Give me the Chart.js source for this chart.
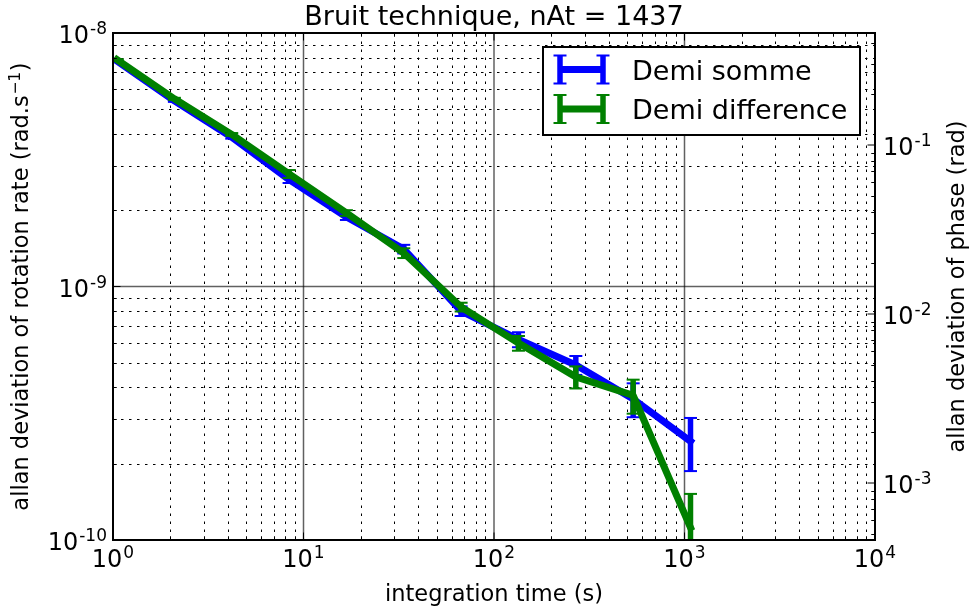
<!DOCTYPE html>
<html>
<head>
<meta charset="utf-8">
<title>Bruit technique</title>
<script src="https://cdn.jsdelivr.net/npm/chart.js@4.4.0/dist/chart.umd.min.js"></script>
<style>
  html, body { margin: 0; padding: 0; background: #fff; }
  #wrap { width: 971px; height: 612px; }
</style>
</head>
<body>
<div id="wrap"><canvas id="allanChart" width="971" height="612"></canvas></div>
<script>
// temps d'intégration (s)
const tau = [1.05, 2.1, 4.2, 8.4, 16.8, 33.6, 67.2, 134.4, 268.8, 537.6, 1075.2];

// écart-type d'Allan, demi somme
const sommeDev = [7.75e-9, 5.40e-9, 3.88e-9, 2.64e-9, 1.88e-9, 1.405e-9, 8.0e-10, 6.18e-10, 4.9e-10, 3.6e-10, 2.45e-10];
const sommeErr = [0.03e-9, 0.05e-9, 0.05e-9, 0.08e-9, 0.05e-9, 0.055e-9, 0.35e-10, 0.42e-10, 0.42e-10, 0.55e-10, 0.58e-10];

// écart-type d'Allan, demi différence
const diffDev = [7.85e-9, 5.50e-9, 3.98e-9, 2.78e-9, 1.95e-9, 1.355e-9, 8.3e-10, 5.98e-10, 4.4e-10, 3.72e-10, 1.12e-10];
const diffErr = [0.03e-9, 0.05e-9, 0.05e-9, 0.10e-9, 0.05e-9, 0.06e-9, 0.33e-10, 0.40e-10, 0.44e-10, 0.57e-10, 0.40e-10];

// graduations principales
const xDecades = [1, 10, 100, 1000, 10000];
const xDecadeExp = ['0', '1', '2', '3', '4'];
const rateDecades = [1e-8, 1e-9, 1e-10];
const rateDecadeExp = ['-8', '-9', '-10'];
const phaseDecades = [1e-1, 1e-2, 1e-3];
const phaseDecadeExp = ['-1', '-2', '-3'];

const titleText = 'Bruit technique, nAt = 1437';
const xLabel = 'integration time (s)';
const phaseLabel = 'allan deviation of phase (rad)';

const FONT = '"DejaVu Sans", sans-serif';
const LABEL = 22.5;   // titres des axes
const TICK = 24;      // "10" des graduations
const SUP = 17;       // exposants

function toPoints(xs, ys) {
  return xs.map((v, i) => ({ x: v, y: ys[i] }));
}

// graduations secondaires 2..9 de chaque décade
function minorValues(lo, hi) {
  const out = [];
  const e0 = Math.floor(Math.log10(lo)) - 1;
  const e1 = Math.ceil(Math.log10(hi));
  for (let e = e0; e <= e1; e++) {
    for (let m = 2; m <= 9; m++) {
      const v = m * Math.pow(10, e);
      if (v > lo * 1.0001 && v < hi * 0.9999) out.push(v);
    }
  }
  return out;
}

function seg(ctx, x1, y1, x2, y2) {
  ctx.beginPath();
  ctx.moveTo(x1, y1);
  ctx.lineTo(x2, y2);
  ctx.stroke();
}

// "10" avec exposant
function drawPower(ctx, exp, x, baseY, align) {
  ctx.font = TICK + 'px ' + FONT;
  const wBase = ctx.measureText('10').width;
  ctx.font = SUP + 'px ' + FONT;
  const wExp = ctx.measureText(exp).width;
  const total = wBase + 1 + wExp;
  let left = x;
  if (align === 'right') left = x - total;
  if (align === 'center') left = x - total / 2;
  ctx.textAlign = 'left';
  ctx.textBaseline = 'alphabetic';
  ctx.fillStyle = '#000';
  ctx.font = TICK + 'px ' + FONT;
  ctx.fillText('10', left, baseY);
  ctx.font = SUP + 'px ' + FONT;
  ctx.fillText(exp, left + wBase + 1, baseY - 9);
}

const background = {
  id: 'background',
  beforeDraw(chart) {
    const { ctx, width, height } = chart;
    ctx.save();
    ctx.fillStyle = '#fff';
    ctx.fillRect(0, 0, width, height);
    ctx.restore();
  }
};

// grille : pointillés pour les graduations secondaires, trait plein pour les décades
const gridLines = {
  id: 'gridLines',
  beforeDatasetsDraw(chart) {
    const { ctx, chartArea: a, scales } = chart;
    const x = scales.x, y = scales.y;
    ctx.save();
    ctx.beginPath();
    ctx.rect(a.left, a.top, a.right - a.left, a.bottom - a.top);
    ctx.clip();

    ctx.strokeStyle = '#000';
    ctx.lineWidth = 1;
    ctx.setLineDash([2.5, 5.5]);
    minorValues(x.min, x.max).forEach(v => {
      const px = Math.round(x.getPixelForValue(v)) + 0.5;
      seg(ctx, px, a.bottom, px, a.top);
    });
    minorValues(y.min, y.max).forEach(v => {
      const py = Math.round(y.getPixelForValue(v)) + 0.5;
      seg(ctx, a.left, py, a.right, py);
    });

    ctx.setLineDash([]);
    ctx.strokeStyle = 'rgba(0,0,0,0.62)';
    ctx.lineWidth = 1.5;
    xDecades.forEach(v => {
      if (v <= x.min || v >= x.max) return;
      const px = x.getPixelForValue(v);
      seg(ctx, px, a.bottom, px, a.top);
    });
    rateDecades.forEach(v => {
      if (v <= y.min || v >= y.max) return;
      const py = y.getPixelForValue(v);
      seg(ctx, a.left, py, a.right, py);
    });
    ctx.restore();
  }
};

// barres d'erreur tracées juste après chaque courbe
const errorBars = {
  id: 'errorBars',
  afterDatasetDraw(chart, args) {
    const ds = chart.data.datasets[args.index];
    if (!ds.errors) return;
    const { ctx, chartArea: a } = chart;
    const x = chart.scales[args.meta.xAxisID];
    const y = chart.scales[args.meta.yAxisID];
    ctx.save();
    ctx.beginPath();
    ctx.rect(a.left, a.top, a.right - a.left, a.bottom - a.top);
    ctx.clip();
    ctx.strokeStyle = ds.borderColor;
    ds.data.forEach((p, i) => {
      const e = ds.errors[i];
      const px = x.getPixelForValue(p.x);
      const top = y.getPixelForValue(p.y + e);
      const bot = y.getPixelForValue(Math.max(p.y - e, 1e-14));
      ctx.lineWidth = 5.5;
      seg(ctx, px, top, px, bot);
      ctx.lineWidth = 2;
      seg(ctx, px - 6.5, top, px + 6.5, top);
      seg(ctx, px - 6.5, bot, px + 6.5, bot);
    });
    ctx.restore();
  }
};

// cadre, graduations, libellés, titre et légende
const frameAndText = {
  id: 'frameAndText',
  afterDraw(chart) {
    const { ctx, chartArea: a, scales } = chart;
    const x = scales.x, y = scales.y, ph = scales.phase;
    const major = 7.5, minor = 3.75;
    ctx.save();

    // graduations vers l'intérieur
    ctx.strokeStyle = '#000';
    ctx.lineWidth = 1;
    xDecades.forEach(v => {
      const px = x.getPixelForValue(v);
      seg(ctx, px, a.bottom, px, a.bottom - major);
      seg(ctx, px, a.top, px, a.top + major);
    });
    minorValues(x.min, x.max).forEach(v => {
      const px = Math.round(x.getPixelForValue(v)) + 0.5;
      seg(ctx, px, a.bottom, px, a.bottom - minor);
      seg(ctx, px, a.top, px, a.top + minor);
    });
    rateDecades.forEach(v => {
      const py = y.getPixelForValue(v);
      seg(ctx, a.left, py, a.left + major, py);
    });
    minorValues(y.min, y.max).forEach(v => {
      const py = Math.round(y.getPixelForValue(v)) + 0.5;
      seg(ctx, a.left, py, a.left + minor, py);
    });
    phaseDecades.forEach(v => {
      const py = ph.getPixelForValue(v);
      seg(ctx, a.right, py, a.right - major, py);
    });
    minorValues(ph.min, ph.max).forEach(v => {
      const py = Math.round(ph.getPixelForValue(v)) + 0.5;
      seg(ctx, a.right, py, a.right - minor, py);
    });

    // cadre
    ctx.lineWidth = 2;
    ctx.strokeRect(a.left, a.top, a.right - a.left, a.bottom - a.top);

    // valeurs des graduations
    xDecades.forEach((v, i) => drawPower(ctx, xDecadeExp[i], x.getPixelForValue(v), a.bottom + 27, 'center'));
    rateDecades.forEach((v, i) => drawPower(ctx, rateDecadeExp[i], a.left - 6, y.getPixelForValue(v) + 10, 'right'));
    phaseDecades.forEach((v, i) => drawPower(ctx, phaseDecadeExp[i], a.right + 8, ph.getPixelForValue(v) + 10, 'left'));

    // titre
    ctx.fillStyle = '#000';
    ctx.textBaseline = 'alphabetic';
    ctx.textAlign = 'center';
    ctx.font = '27px ' + FONT;
    ctx.fillText(titleText, (a.left + a.right) / 2, 24.5);

    // titre de l'axe x
    ctx.font = LABEL + 'px ' + FONT;
    ctx.fillText(xLabel, (a.left + a.right) / 2, 601);

    // titre de l'axe de gauche, avec exposant
    const cy = (a.top + a.bottom) / 2;
    ctx.save();
    ctx.translate(28, cy);
    ctx.rotate(-Math.PI / 2);
    const head = 'allan deviation of rotation rate (rad.s';
    const sup = '\u22121';
    const tail = ')';
    ctx.font = LABEL + 'px ' + FONT;
    const wHead = ctx.measureText(head).width;
    const wTail = ctx.measureText(tail).width;
    ctx.font = '15.75px ' + FONT;
    const wSup = ctx.measureText(sup).width;
    let sx = -(wHead + wSup + wTail + 1) / 2;
    ctx.textAlign = 'left';
    ctx.font = LABEL + 'px ' + FONT;
    ctx.fillText(head, sx, 0);
    sx += wHead + 0.5;
    ctx.font = '15.75px ' + FONT;
    ctx.fillText(sup, sx, -8);
    sx += wSup + 0.5;
    ctx.font = LABEL + 'px ' + FONT;
    ctx.fillText(tail, sx, 0);
    ctx.restore();

    // titre de l'axe de droite
    ctx.save();
    ctx.translate(964, cy);
    ctx.rotate(-Math.PI / 2);
    ctx.textAlign = 'center';
    ctx.font = LABEL + 'px ' + FONT;
    ctx.fillText(phaseLabel, 0, 0);
    ctx.restore();

    // légende
    const box = { l: 543, t: 47, r: 860, b: 135 };
    ctx.fillStyle = '#fff';
    ctx.fillRect(box.l, box.t, box.r - box.l, box.b - box.t);
    ctx.strokeStyle = '#000';
    ctx.lineWidth = 2;
    ctx.strokeRect(box.l, box.t, box.r - box.l, box.b - box.t);
    chart.data.datasets.forEach((ds, i) => {
      const yc = 69.5 + i * 39.5;
      const x0 = 560, x1 = 603, h = 14;
      ctx.strokeStyle = ds.borderColor;
      ctx.lineWidth = 7;
      ctx.lineCap = 'butt';
      seg(ctx, x0, yc, x1, yc);
      [x0, x1].forEach(px => {
        ctx.lineWidth = 5.5;
        seg(ctx, px, yc - h, px, yc + h);
        ctx.lineWidth = 2;
        seg(ctx, px - 6.5, yc - h, px + 6.5, yc - h);
        seg(ctx, px - 6.5, yc + h, px + 6.5, yc + h);
      });
      ctx.fillStyle = '#000';
      ctx.textAlign = 'left';
      ctx.font = '27px ' + FONT;
      ctx.fillText(ds.label, 632, yc + 10);
    });

    ctx.restore();
  }
};

const ctx = document.getElementById('allanChart').getContext('2d');
const chart = new Chart(ctx, {
  type: 'line',
  data: {
    datasets: [
      {
        label: 'Demi somme',
        data: toPoints(tau, sommeDev),
        errors: sommeErr,
        borderColor: '#0000ff',
        borderWidth: 7,
        borderJoinStyle: 'round',
        borderCapStyle: 'square',
        pointRadius: 0,
        tension: 0,
        fill: false,
        order: 1,
        yAxisID: 'y'
      },
      {
        label: 'Demi difference',
        data: toPoints(tau, diffDev),
        errors: diffErr,
        borderColor: '#008000',
        borderWidth: 7,
        borderJoinStyle: 'round',
        borderCapStyle: 'square',
        pointRadius: 0,
        tension: 0,
        fill: false,
        order: 0,
        yAxisID: 'y'
      }
    ]
  },
  options: {
    responsive: false,
    devicePixelRatio: 1,
    animation: false,
    events: [],
    layout: { padding: { top: 33, left: 0, right: 0, bottom: 0 } },
    plugins: {
      legend: { display: false },
      tooltip: { enabled: false },
      title: { display: false }
    },
    scales: {
      x: {
        type: 'logarithmic',
        position: 'bottom',
        min: 1,
        max: 10000,
        grid: { display: false },
        border: { display: false },
        ticks: { display: false },
        afterFit: s => { s.height = 72; }
      },
      y: {
        type: 'logarithmic',
        position: 'left',
        min: 1e-10,
        max: 1e-8,
        grid: { display: false },
        border: { display: false },
        ticks: { display: false },
        afterFit: s => { s.width = 113; }
      },
      phase: {
        type: 'logarithmic',
        axis: 'y',
        position: 'right',
        min: 4.6e-4,
        max: 0.46,
        grid: { display: false },
        border: { display: false },
        ticks: { display: false },
        afterFit: s => { s.width = 96; }
      }
    }
  },
  plugins: [background, gridLines, errorBars, frameAndText]
});
</script>
</body>
</html>
